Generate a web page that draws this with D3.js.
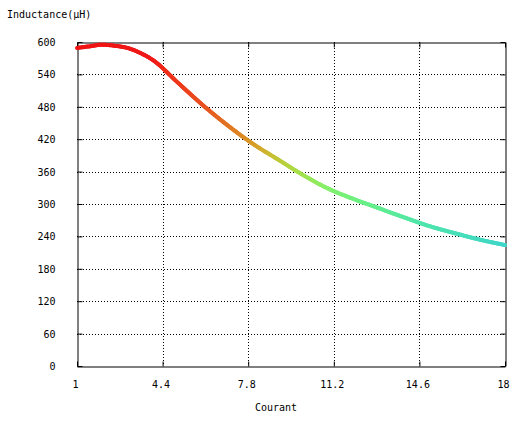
<!DOCTYPE html>
<html>
<head>
<meta charset="utf-8">
<script src="https://cdn.jsdelivr.net/npm/d3@7"></script>
<style>
html,body{margin:0;padding:0;background:#fff;}
svg{display:block;}
text{font-family:"DejaVu Sans Mono",monospace;font-size:10px;fill:#000;}
</style>
</head>
<body>
<svg id="chart" width="524" height="425"></svg>
<script>
// Data
const courant = [1, 1.5, 2, 2.5, 3, 3.5, 4, 5, 6, 7, 8, 9, 10, 11, 12, 13, 14, 15, 16, 17, 18];
const inductance = [589, 592, 595, 593, 589, 580, 567, 525, 483, 445, 411, 382, 353, 328, 309, 292, 275, 259, 246, 234, 224];
const xTicks = [1, 4.4, 7.8, 11.2, 14.6, 18];
const yTicks = [0, 60, 120, 180, 240, 300, 360, 420, 480, 540, 600];
const colorStopsX = [1, 4, 4.6, 6, 7.2, 8, 8.8, 9.8, 11, 12.5, 14.6, 18];
const colorStops = ["#f01414", "#f01818", "#f02c18", "#e85020", "#e07a22", "#d89a28", "#c8c032", "#a8e048", "#84f06c", "#68f088", "#50e6aa", "#3ed6c8"];
const xLabel = "Courant";
const yLabel = "Inductance(\u00b5H)";

const svg = d3.select("#chart");
const L = 77, R = 505, T = 42, B = 366;
const x = d3.scaleLinear().domain([1, 18]).range([L, R]);
const y = d3.scaleLinear().domain([0, 600]).range([B, T]);
const color = d3.scaleLinear().domain(colorStopsX).range(colorStops).interpolate(d3.interpolateRgb);

// Grid (dotted)
const grid = svg.append("g");
grid.selectAll(".gx").data(xTicks.slice(1, -1)).join("line")
  .attr("x1", d => Math.round(x(d)) + 0.5).attr("x2", d => Math.round(x(d)) + 0.5)
  .attr("y1", T).attr("y2", B)
  .attr("stroke", "#000").attr("stroke-width", 1).attr("stroke-dasharray", "1,2");
grid.selectAll(".gy").data(yTicks.slice(1, -1)).join("line")
  .attr("x1", L).attr("x2", R)
  .attr("y1", d => Math.round(y(d)) + 0.5).attr("y2", d => Math.round(y(d)) + 0.5)
  .attr("stroke", "#000").attr("stroke-width", 1).attr("stroke-dasharray", "1,2");

// Axes with inward ticks (mirrored)
const tl = 5;
const axB = svg.append("g").attr("transform", `translate(0,${B + 0.5})`)
  .call(d3.axisBottom(x).tickValues(xTicks).tickSizeInner(-tl).tickSizeOuter(0).tickFormat(d3.format("~g")));
const axT = svg.append("g").attr("transform", `translate(0,${T + 0.5})`)
  .call(d3.axisTop(x).tickValues(xTicks).tickSizeInner(-tl).tickSizeOuter(0).tickFormat(""));
const axL = svg.append("g").attr("transform", `translate(${L + 0.5},0)`)
  .call(d3.axisLeft(y).tickValues(yTicks).tickSizeInner(-tl).tickSizeOuter(0));
const axR = svg.append("g").attr("transform", `translate(${R + 0.5},0)`)
  .call(d3.axisRight(y).tickValues(yTicks).tickSizeInner(-tl).tickSizeOuter(0).tickFormat(""));
[axB, axT, axL, axR].forEach(a => {
  a.attr("font-family", null).attr("font-size", null);
  a.selectAll("path").attr("stroke", "#000").attr("stroke-width", 1);
  a.selectAll("line").attr("stroke", "#000").attr("stroke-width", 1);
});
axB.selectAll("text").attr("y", 0).attr("dy", null).attr("dx", -2)
  .attr("transform", "translate(0,21)");
axL.selectAll("text").attr("x", -22).attr("dy", "0.35em");

// Curve: smooth path through the data, drawn as coloured pieces
const pts = courant.map((c, i) => [c, inductance[i]]);
const lineGen = d3.line().x(d => x(d[0])).y(d => y(d[1])).curve(d3.curveMonotoneX);
const guide = svg.append("path").attr("d", lineGen(pts)).attr("fill", "none").attr("stroke", "none");
const node = guide.node();
const total = node.getTotalLength();
const step = 1.5;
const samples = [];
for (let s = 0; s <= total; s += step) samples.push(node.getPointAtLength(s));
samples.push(node.getPointAtLength(total));
const segs = d3.pairs(samples);
svg.append("g").selectAll("line").data(segs).join("line")
  .attr("x1", d => d[0].x).attr("y1", d => d[0].y)
  .attr("x2", d => d[1].x).attr("y2", d => d[1].y)
  .attr("stroke", d => color(x.invert((d[0].x + d[1].x) / 2)))
  .attr("stroke-width", 4)
  .attr("stroke-linecap", "round");

// Labels
svg.append("text").attr("x", 276).attr("y", 411).attr("text-anchor", "middle").text(xLabel);
svg.append("text").attr("x", 7).attr("y", 18).text(yLabel);
</script>
</body>
</html>
